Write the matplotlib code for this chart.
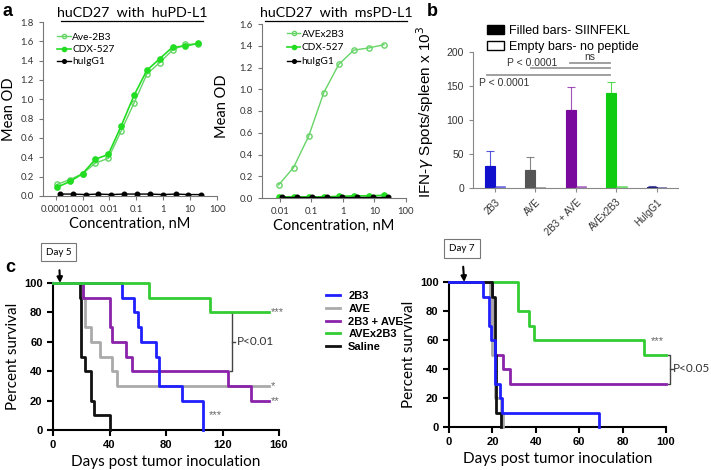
import numpy as np
import matplotlib
matplotlib.use("Agg")
import matplotlib.pyplot as plt
from matplotlib.patches import Patch
from matplotlib.lines import Line2D

W, H = 711, 470

# ---- panel a: binding ELISA ----
conc_hu = [0.000113, 0.00034, 0.001, 0.003, 0.0091, 0.027, 0.082, 0.247, 0.74, 2.22, 6.67, 20]
conc_hu_igg = [0.000147, 0.00044, 0.0013, 0.0039, 0.0118, 0.035, 0.107, 0.32, 0.96, 2.89, 8.67, 26]
ave2b3_hu = [0.12, 0.17, 0.23, 0.34, 0.39, 0.67, 0.96, 1.26, 1.38, 1.51, 1.57, 1.57]
cdx527_hu = [0.09, 0.15, 0.23, 0.38, 0.43, 0.72, 1.04, 1.30, 1.42, 1.54, 1.55, 1.58]
huigg1_hu = [0.02, 0.02, 0.015, 0.02, 0.015, 0.02, 0.02, 0.02, 0.015, 0.02, 0.015, 0.015]

conc_ms = [0.0091, 0.027, 0.082, 0.247, 0.74, 2.22, 6.67, 20]
conc_ms_igg = [0.0118, 0.035, 0.107, 0.32, 0.96, 2.89, 8.67, 26]
avex2b3_ms = [0.12, 0.28, 0.57, 0.97, 1.23, 1.36, 1.38, 1.41]
cdx527_ms = [0.01, 0.01, 0.01, 0.01, 0.015, 0.02, 0.02, 0.025]
huigg1_ms = [0.01, 0.01, 0.01, 0.01, 0.01, 0.01, 0.01, 0.01]

# ---- panel b: ELISPOT ----
b_groups = ["2B3", "AVE", "2B3 + AVE", "AVEx2B3", "HuIgG1"]
b_filled = [32, 26, 114, 140, 2]
b_filled_err = [23, 19, 34, 16, 1]
b_empty = [2, 0.5, 2, 1, 0.5]
b_colors = ["#1010cc", "#555555", "#7a0a9e", "#10cc10", "#1a1a80"]

# ---- panel c: survival ----
c1_curves = {
    "2B3": ([0, 49, 57, 60, 62.5, 73, 75, 91.5, 106], [100, 90, 80, 70, 60, 50, 30, 20, 0]),
    "AVE": ([0, 21, 23, 27, 33, 42, 45, 153], [100, 90, 70, 60, 50, 40, 30, 30]),
    "2B3 + AVE": ([0, 21, 40, 42, 52, 56, 124, 140, 153], [100, 90, 70, 60, 50, 40, 30, 20, 20]),
    "AVEx2B3": ([0, 68, 111, 153], [100, 90, 80, 80]),
    "Saline": ([0, 19.3, 20, 22.4, 27, 28.8, 40], [100, 90, 50, 40, 20, 10, 0]),
}
c2_curves = {
    "2B3": ([0, 15.5, 18.5, 19.5, 21, 23.5, 24.5, 69], [100, 90, 70, 60, 30, 20, 10, 0]),
    "AVE": ([0, 19, 20, 21, 24, 25], [100, 90, 50, 20, 10, 0]),
    "2B3 + AVE": ([0, 20, 21, 25, 28, 100], [100, 60, 50, 40, 30, 30]),
    "AVEx2B3": ([0, 32, 37, 39, 90, 100], [100, 80, 70, 60, 50, 50]),
    "Saline": ([0, 20, 21, 21.5, 24], [100, 90, 50, 10, 0]),
}
c_colors = {"2B3": "#1f1fff", "AVE": "#aaaaaa", "2B3 + AVE": "#8a22aa",
            "AVEx2B3": "#33cc33", "Saline": "#111111"}


def px(l, t, r, b):
    return [l / W, 1 - b / H, (r - l) / W, (b - t) / H]


fig = plt.figure(figsize=(W / 100, H / 100), dpi=100)
cal = "Lato"
ari = "Liberation Sans"


def style_a(ax, xlim, ylim, yticks, xticks):
    ax.set_xscale("log")
    ax.set_xlim(*xlim)
    ax.set_ylim(*ylim)
    for s in ["top", "right"]:
        ax.spines[s].set_visible(False)
    for s in ["left", "bottom"]:
        ax.spines[s].set_color("#777777")
    ax.set_yticks(yticks)
    ax.set_yticklabels([f"{v:.1f}" for v in yticks], fontsize=6.8, family=cal)
    ax.set_xticks(xticks)
    ax.set_xticklabels([f"{v:g}" for v in xticks], fontsize=6.8, family=cal)
    ax.tick_params(length=3, color="#777777", labelcolor="#333333")
    ax.tick_params(which="minor", length=1.5, color="#999999")
    ax.set_ylabel("Mean OD", fontsize=10.5, family=cal, labelpad=3)
    ax.set_xlabel("Concentration, nM", fontsize=10.5, family=cal, labelpad=2)


# a left
ax1 = fig.add_axes(px(43, 22, 217, 196))
ax1.plot(conc_hu, ave2b3_hu, "-o", color="#66d466", mfc="none", mec="#66d466", ms=3.8, lw=1, label="Ave-2B3")
ax1.plot(conc_hu, cdx527_hu, "-o", color="#22dd22", ms=3.8, lw=1.2, label="CDX-527")
ax1.plot(conc_hu_igg, huigg1_hu, "-o", color="black", ms=3.3, lw=1, label="huIgG1")
style_a(ax1, (3.4e-5, 100), (0, 1.8), np.arange(0, 1.81, 0.2),
        [0.0001, 0.001, 0.01, 0.1, 1, 10, 100])
ax1.legend(loc="upper left", bbox_to_anchor=(0.03, 0.99), frameon=False,
           handlelength=1.3, handletextpad=0.15, labelspacing=0.3, markerscale=0.8,
           prop={"family": cal, "size": 7.3})
fig.text(132 / W, 1 - 13 / H, "huCD27  with  huPD-L1", ha="center", va="center", fontsize=10.3, family=cal)
fig.add_artist(Line2D([61 / W, 203 / W], [1 - 21 / H, 1 - 21 / H], color="black", lw=0.9))

# a right
ax2 = fig.add_axes(px(262, 24, 406, 198))
ax2.plot(conc_ms, avex2b3_ms, "-o", color="#66d466", mfc="none", mec="#66d466", ms=3.8, lw=1, label="AVEx2B3")
ax2.plot(conc_ms, cdx527_ms, "-o", color="#22dd22", ms=3.8, lw=1.2, label="CDX-527")
ax2.plot(conc_ms_igg, huigg1_ms, "-o", color="black", ms=3.3, lw=1, label="huIgG1")
style_a(ax2, (2.7e-3, 100), (0, 1.6), np.arange(0, 1.61, 0.2), [0.01, 0.1, 1, 10, 100])
ax2.set_ylabel("")
ax2.legend(loc="upper left", bbox_to_anchor=(0.11, 1.02), frameon=False,
           handlelength=1.3, handletextpad=0.15, labelspacing=0.45, markerscale=0.8,
           prop={"family": cal, "size": 7.3})
fig.text(222 / W, 1 - 106 / H, "Mean OD", rotation=90, ha="center", va="center", fontsize=10.5, family=cal)
fig.text(336 / W, 1 - 13 / H, "huCD27  with  msPD-L1", ha="center", va="center", fontsize=10.3, family=cal)
fig.add_artist(Line2D([265 / W, 407 / W], [1 - 21 / H, 1 - 21 / H], color="black", lw=0.9))

# b
axb = fig.add_axes(px(473, 52, 678, 188))
x = np.arange(len(b_groups))
bw = 0.25
axb.bar(x - bw / 2, b_filled, bw, color=b_colors, edgecolor=b_colors, lw=0.8)
for i in range(len(x)):
    axb.errorbar(x[i] - bw / 2, b_filled[i], yerr=[[0], [b_filled_err[i]]], color=b_colors[i],
                 lw=0.8, capsize=3, capthick=0.8, alpha=0.7)
axb.bar(x + bw / 2, b_empty, bw, color="white", edgecolor=b_colors, lw=1.2, alpha=0.6)
axb.set_xlim(-0.54, 4.52)
axb.set_ylim(0, 200)
for s in ["top", "right"]:
    axb.spines[s].set_visible(False)
for s in ["left", "bottom"]:
    axb.spines[s].set_color("#888888")
axb.set_yticks([0, 50, 100, 150, 200])
axb.set_yticklabels(["0", "50", "100", "150", "200"], fontsize=7.5, family=ari)
axb.set_xticks(x)
axb.set_xticklabels(b_groups, rotation=45, ha="right", rotation_mode="anchor", fontsize=7, family=ari)
axb.tick_params(length=3, color="#888888", labelcolor="#333333")
axb.set_ylabel("IFN-$\\gamma$ Spots/spleen x 10$^3$", fontsize=11, family=ari)
axb.yaxis.set_label_coords(-0.18, 0.56)
sig = "#999999"
axb.plot([1.85, 2.84], [184, 184], color=sig, lw=1.3)
axb.text(2.35, 186, "ns", ha="center", va="bottom", fontsize=7.5, family=ari, color="#333333")
axb.plot([0.9, 2.84], [176, 176], color=sig, lw=1.3)
axb.text(0.93, 177, "P < 0.0001", ha="center", va="bottom", fontsize=7.5, family=ari, color="#333333")
axb.plot([-0.2, 2.84], [166, 166], color=sig, lw=1.3)
axb.text(0.22, 154, "P < 0.0001", ha="center", va="center", fontsize=7.5, family=ari, color="#333333")
hb = [Patch(facecolor="black", edgecolor="black", label="Filled bars- SIINFEKL"),
      Patch(facecolor="white", edgecolor="black", label="Empty bars- no peptide")]
fig.legend(handles=hb, loc="upper left", bbox_to_anchor=(478 / W, 1 - 16 / H), frameon=False,
           handlelength=1.4, handleheight=0.8, handletextpad=0.4, labelspacing=0.3,
           borderpad=0.2, prop={"family": ari, "size": 9})


def style_c(ax, xmax, xstep):
    ax.set_xlim(0, xmax)
    ax.set_ylim(0, 100)
    for s in ["top", "right"]:
        ax.spines[s].set_visible(False)
    for s in ["left", "bottom"]:
        ax.spines[s].set_linewidth(1.5)
    ax.set_xticks(np.arange(0, xmax + 1, xstep))
    ax.set_yticks(np.arange(0, 101, 20))
    ax.tick_params(width=1.5, length=4, labelsize=8)
    for lab in ax.get_xticklabels() + ax.get_yticklabels():
        lab.set_fontweight("bold")
        lab.set_family(ari)
    ax.set_ylabel("Percent survival", fontsize=11, family=cal, labelpad=3)
    ax.set_xlabel("Days post tumor inoculation", fontsize=11, family=cal, labelpad=3)


# c left
axc1 = fig.add_axes(px(53, 283, 279, 430))
for name in ["Saline", "AVE", "2B3 + AVE", "2B3", "AVEx2B3"]:
    t, s = c1_curves[name]
    axc1.step(t, s, where="post", color=c_colors[name], lw=2, clip_on=False, zorder=3)
style_c(axc1, 160, 40)
ast = "#666666"
axc1.text(154, 80, "***", fontsize=8, color=ast, va="center", family=ari)
axc1.text(154, 30, "*", fontsize=8, color=ast, va="center", family=ari)
axc1.text(154, 20, "**", fontsize=8, color=ast, va="center", family=ari)
axc1.text(110, 10, "***", fontsize=8, color=ast, va="center", family=ari)
axc1.plot([125, 127, 127, 125], [80, 80, 40, 40], color="#444444", lw=1)
axc1.plot([127, 129], [60, 60], color="#444444", lw=1)
axc1.text(130, 60, "P<0.01", fontsize=8.5, va="center", family=cal, color="#333333")
axc1.annotate("Day 5", xy=(5, 100), xycoords="data", xytext=(0.025, 1.21), textcoords="axes fraction",
              ha="center", va="center", fontsize=7, family=cal,
              bbox=dict(boxstyle="square,pad=0.5", fc="white", ec="#777777", lw=0.8),
              arrowprops=dict(arrowstyle="-|>", color="black", lw=1.5, shrinkA=6, shrinkB=0,
                              mutation_scale=8), annotation_clip=False)

# c right
axc2 = fig.add_axes(px(449, 282, 666, 427))
for name in ["2B3 + AVE", "AVEx2B3", "AVE", "Saline", "2B3"]:
    t, s = c2_curves[name]
    axc2.step(t, s, where="post", color=c_colors[name], lw=2, clip_on=False, zorder=3)
style_c(axc2, 100, 20)
axc2.text(93, 59, "***", fontsize=8, color=ast, va="center", family=ari)
axc2.plot([101, 102, 102, 101], [50, 50, 30, 30], color="#444444", lw=1, clip_on=False)
axc2.plot([102, 103], [40, 40], color="#444444", lw=1, clip_on=False)
axc2.text(103.3, 40, "P<0.05", fontsize=8.5, va="center", family=cal, color="#333333")
axc2.annotate("Day 7", xy=(7, 100), xycoords="data", xytext=(0.06, 1.23), textcoords="axes fraction",
              ha="center", va="center", fontsize=7, family=cal,
              bbox=dict(boxstyle="square,pad=0.5", fc="white", ec="#777777", lw=0.8),
              arrowprops=dict(arrowstyle="-|>", color="black", lw=1.5, shrinkA=6, shrinkB=0,
                              mutation_scale=8), annotation_clip=False)

hc = [Line2D([], [], color=c_colors[n], lw=2, label=n) for n in ["2B3", "AVE", "2B3 + AVE", "AVEx2B3", "Saline"]]
fig.legend(handles=hc, loc="upper left", bbox_to_anchor=(316 / W, 1 - 281 / H), frameon=False,
           handlelength=1.3, handletextpad=0.7, labelspacing=0.25,
           prop={"family": ari, "size": 8, "weight": "bold"})

# panel letters
fig.text(3 / W, 1 - 11 / H, "a", fontsize=13, fontweight="bold", family=ari, va="center")
fig.text(427 / W, 1 - 11 / H, "b", fontsize=13, fontweight="bold", family=ari, va="center")
fig.text(5 / W, 1 - 267 / H, "c", fontsize=13, fontweight="bold", family=ari, va="center")

fig.savefig("out.png", dpi=100)
